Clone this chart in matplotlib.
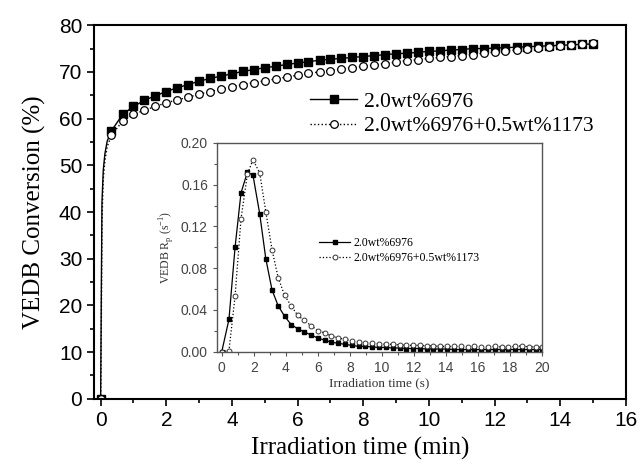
import matplotlib
matplotlib.use('Agg')
import matplotlib.pyplot as plt
from matplotlib.ticker import MultipleLocator

# main curve: conversion (%) vs irradiation time (min)
t_min = [0, 0.02, 0.04, 0.08, 0.13, 0.2,
         0.33, 0.67, 1.0, 1.33, 1.67, 2.0, 2.33, 2.67, 3.0, 3.33, 3.67, 4.0,
         4.33, 4.67, 5.0, 5.33, 5.67, 6.0, 6.33, 6.67, 7.0, 7.33, 7.67, 8.0,
         8.33, 8.67, 9.0, 9.33, 9.67, 10.0, 10.33, 10.67, 11.0, 11.33, 11.67,
         12.0, 12.33, 12.67, 13.0, 13.33, 13.67, 14.0, 14.33, 14.67, 15.0]
conv_a = [0, 22, 42, 49, 52.5, 55.2,
          57.4, 60.9, 62.6, 63.9, 64.9, 65.8, 66.6, 67.3, 68.0, 68.6, 69.1, 69.6,
          70.1, 70.5, 70.9, 71.2, 71.6, 71.9, 72.2, 72.5, 72.7, 72.9, 73.1, 73.3,
          73.5, 73.7, 73.9, 74.0, 74.2, 74.4, 74.5, 74.7, 74.8, 75.0, 75.0,
          75.1, 75.2, 75.3, 75.4, 75.5, 75.6, 75.7, 75.8, 75.9, 76.0]
conv_b = [0, 15, 38, 47, 51, 54,
          56.4, 59.5, 60.9, 61.8, 62.6, 63.4, 64.0, 64.6, 65.2, 65.8, 66.3, 66.8,
          67.3, 67.7, 68.1, 68.5, 68.9, 69.3, 69.7, 70.0, 70.3, 70.6, 70.9, 71.2,
          71.5, 71.8, 72.1, 72.4, 72.6, 72.9, 73.1, 73.3, 73.5, 73.7, 74.0,
          74.2, 74.5, 74.7, 75.0, 75.2, 75.4, 75.6, 75.8, 76.0, 76.1]
mark_idx = [0] + list(range(6, len(t_min)))

# inset: polymerization rate Rp (1/s) vs irradiation time (s)
t_s = [0, 0.45, 0.83, 1.2, 1.6, 1.95, 2.37, 2.75, 3.14, 3.52, 3.92, 4.33,
       4.73, 5.14, 5.57, 6.0, 6.43, 6.85, 7.28, 7.7, 8.12, 8.55, 8.97, 9.4,
       9.82, 10.25, 10.67, 11.1, 11.52, 11.95, 12.37, 12.8, 13.22, 13.65,
       14.07, 14.5, 14.92, 15.35, 15.77, 16.2, 16.62, 17.05, 17.47, 17.9,
       18.32, 18.75, 19.17, 19.6, 20.0]
rp_a = [0.0, 0.031, 0.100, 0.152, 0.172, 0.169, 0.132, 0.089, 0.059, 0.044,
        0.034, 0.026, 0.022, 0.019, 0.016, 0.013, 0.011, 0.009, 0.008, 0.007,
        0.006, 0.005, 0.005, 0.0045, 0.004, 0.004, 0.0035, 0.0035, 0.003,
        0.003, 0.003, 0.0025, 0.0025, 0.0025, 0.0025, 0.002, 0.002, 0.002,
        0.002, 0.002, 0.002, 0.002, 0.002, 0.002, 0.002, 0.002, 0.002, 0.002,
        0.002]
rp_b = [0.0, 0.001, 0.053, 0.127, 0.170, 0.184, 0.171, 0.134, 0.0975, 0.071,
        0.054, 0.044, 0.035, 0.030, 0.025, 0.020, 0.018, 0.015, 0.013, 0.012,
        0.010, 0.009, 0.0085, 0.008, 0.0075, 0.007, 0.007, 0.0065, 0.006,
        0.006, 0.006, 0.0055, 0.0055, 0.005, 0.005, 0.005, 0.005, 0.0045,
        0.005, 0.0045, 0.0045, 0.005, 0.0045, 0.0045, 0.005, 0.0055, 0.0045,
        0.0045, 0.004]

labels = ['2.0wt%6976', '2.0wt%6976+0.5wt%1173']
serif = 'Liberation Serif'
sans = 'Liberation Sans'

fig = plt.figure(figsize=(6.4, 4.67), dpi=100)
ax = fig.add_axes([0.147, 0.146, 0.831, 0.8])

ax.plot(t_min, conv_a, '-', color='black', lw=1.0, marker='s', ms=5.5,
        mfc='black', mec='black', markevery=mark_idx, label=labels[0])
ax.plot(t_min, conv_b, ':', color='black', lw=1.0, marker='o', ms=5.5,
        mfc='white', mec='black', mew=0.9, markevery=mark_idx, label=labels[1])

ax.set_xlim(-0.2, 16)
ax.set_ylim(0, 80)
ax.xaxis.set_major_locator(MultipleLocator(2))
ax.xaxis.set_minor_locator(MultipleLocator(1))
ax.yaxis.set_major_locator(MultipleLocator(10))
ax.yaxis.set_minor_locator(MultipleLocator(5))
ax.tick_params(which='both', direction='out', top=False, right=False,
               width=1.2, labelsize=15)
ax.tick_params(which='major', length=5)
ax.tick_params(which='minor', length=3)
for lab in ax.get_xticklabels() + ax.get_yticklabels():
    lab.set_family(sans)
for s in ax.spines.values():
    s.set_linewidth(1.5)
ax.set_xlabel('Irradiation time (min)', family=serif, fontsize=18, labelpad=5)
ax.set_ylabel('VEDB Conversion (%)', family=serif, fontsize=18, labelpad=9)

leg = ax.legend(loc='upper left', bbox_to_anchor=(0.39, 0.845), frameon=False,
                prop={'family': serif, 'size': 15.5}, handlelength=2.2,
                handletextpad=0.3, labelspacing=0.2, borderaxespad=0)

# inset
axi = fig.add_axes([0.339, 0.247, 0.508, 0.447])
axi.plot(t_s, rp_a, '-', color='black', lw=0.9, marker='s', ms=3,
         mfc='black', mec='black', label=labels[0])
axi.plot(t_s, rp_b, ':', color='black', lw=0.9, marker='o', ms=3.5,
         mfc='white', mec='#333333', mew=0.7, label=labels[1])
axi.set_xlim(-0.3, 20)
axi.set_ylim(0, 0.2)
axi.xaxis.set_major_locator(MultipleLocator(2))
axi.xaxis.set_minor_locator(MultipleLocator(1))
axi.yaxis.set_major_locator(MultipleLocator(0.04))
axi.yaxis.set_minor_locator(MultipleLocator(0.02))
axi.tick_params(which='both', direction='out', top=False, right=False,
                width=0.8, color='#555555', labelsize=10, labelcolor='#444444')
axi.tick_params(which='major', length=3)
axi.tick_params(which='minor', length=2)
axi.set_yticks([0, 0.04, 0.08, 0.12, 0.16, 0.2])
axi.set_yticklabels(['0.00', '0.04', '0.08', '0.12', '0.16', '0.20'])
for lab in axi.get_xticklabels() + axi.get_yticklabels():
    lab.set_family(sans)
for s in axi.spines.values():
    s.set_linewidth(1.0)
    s.set_color('#555555')
axi.set_xlabel('Irradiation time (s)', family=serif, fontsize=9.5,
               color='#333333', labelpad=2)
axi.set_ylabel('VEDB R$_\\mathregular{p}$ (s$^{\\mathregular{-1}}$)',
               family=serif, fontsize=8.5, color='#333333', labelpad=3)
axi.legend(loc='upper left', bbox_to_anchor=(0.30, 0.57), frameon=False,
           prop={'family': serif, 'size': 8.5}, handlelength=2.6,
           handletextpad=0.3, labelspacing=0.25, borderaxespad=0)

fig.savefig('out.png', dpi=100)
